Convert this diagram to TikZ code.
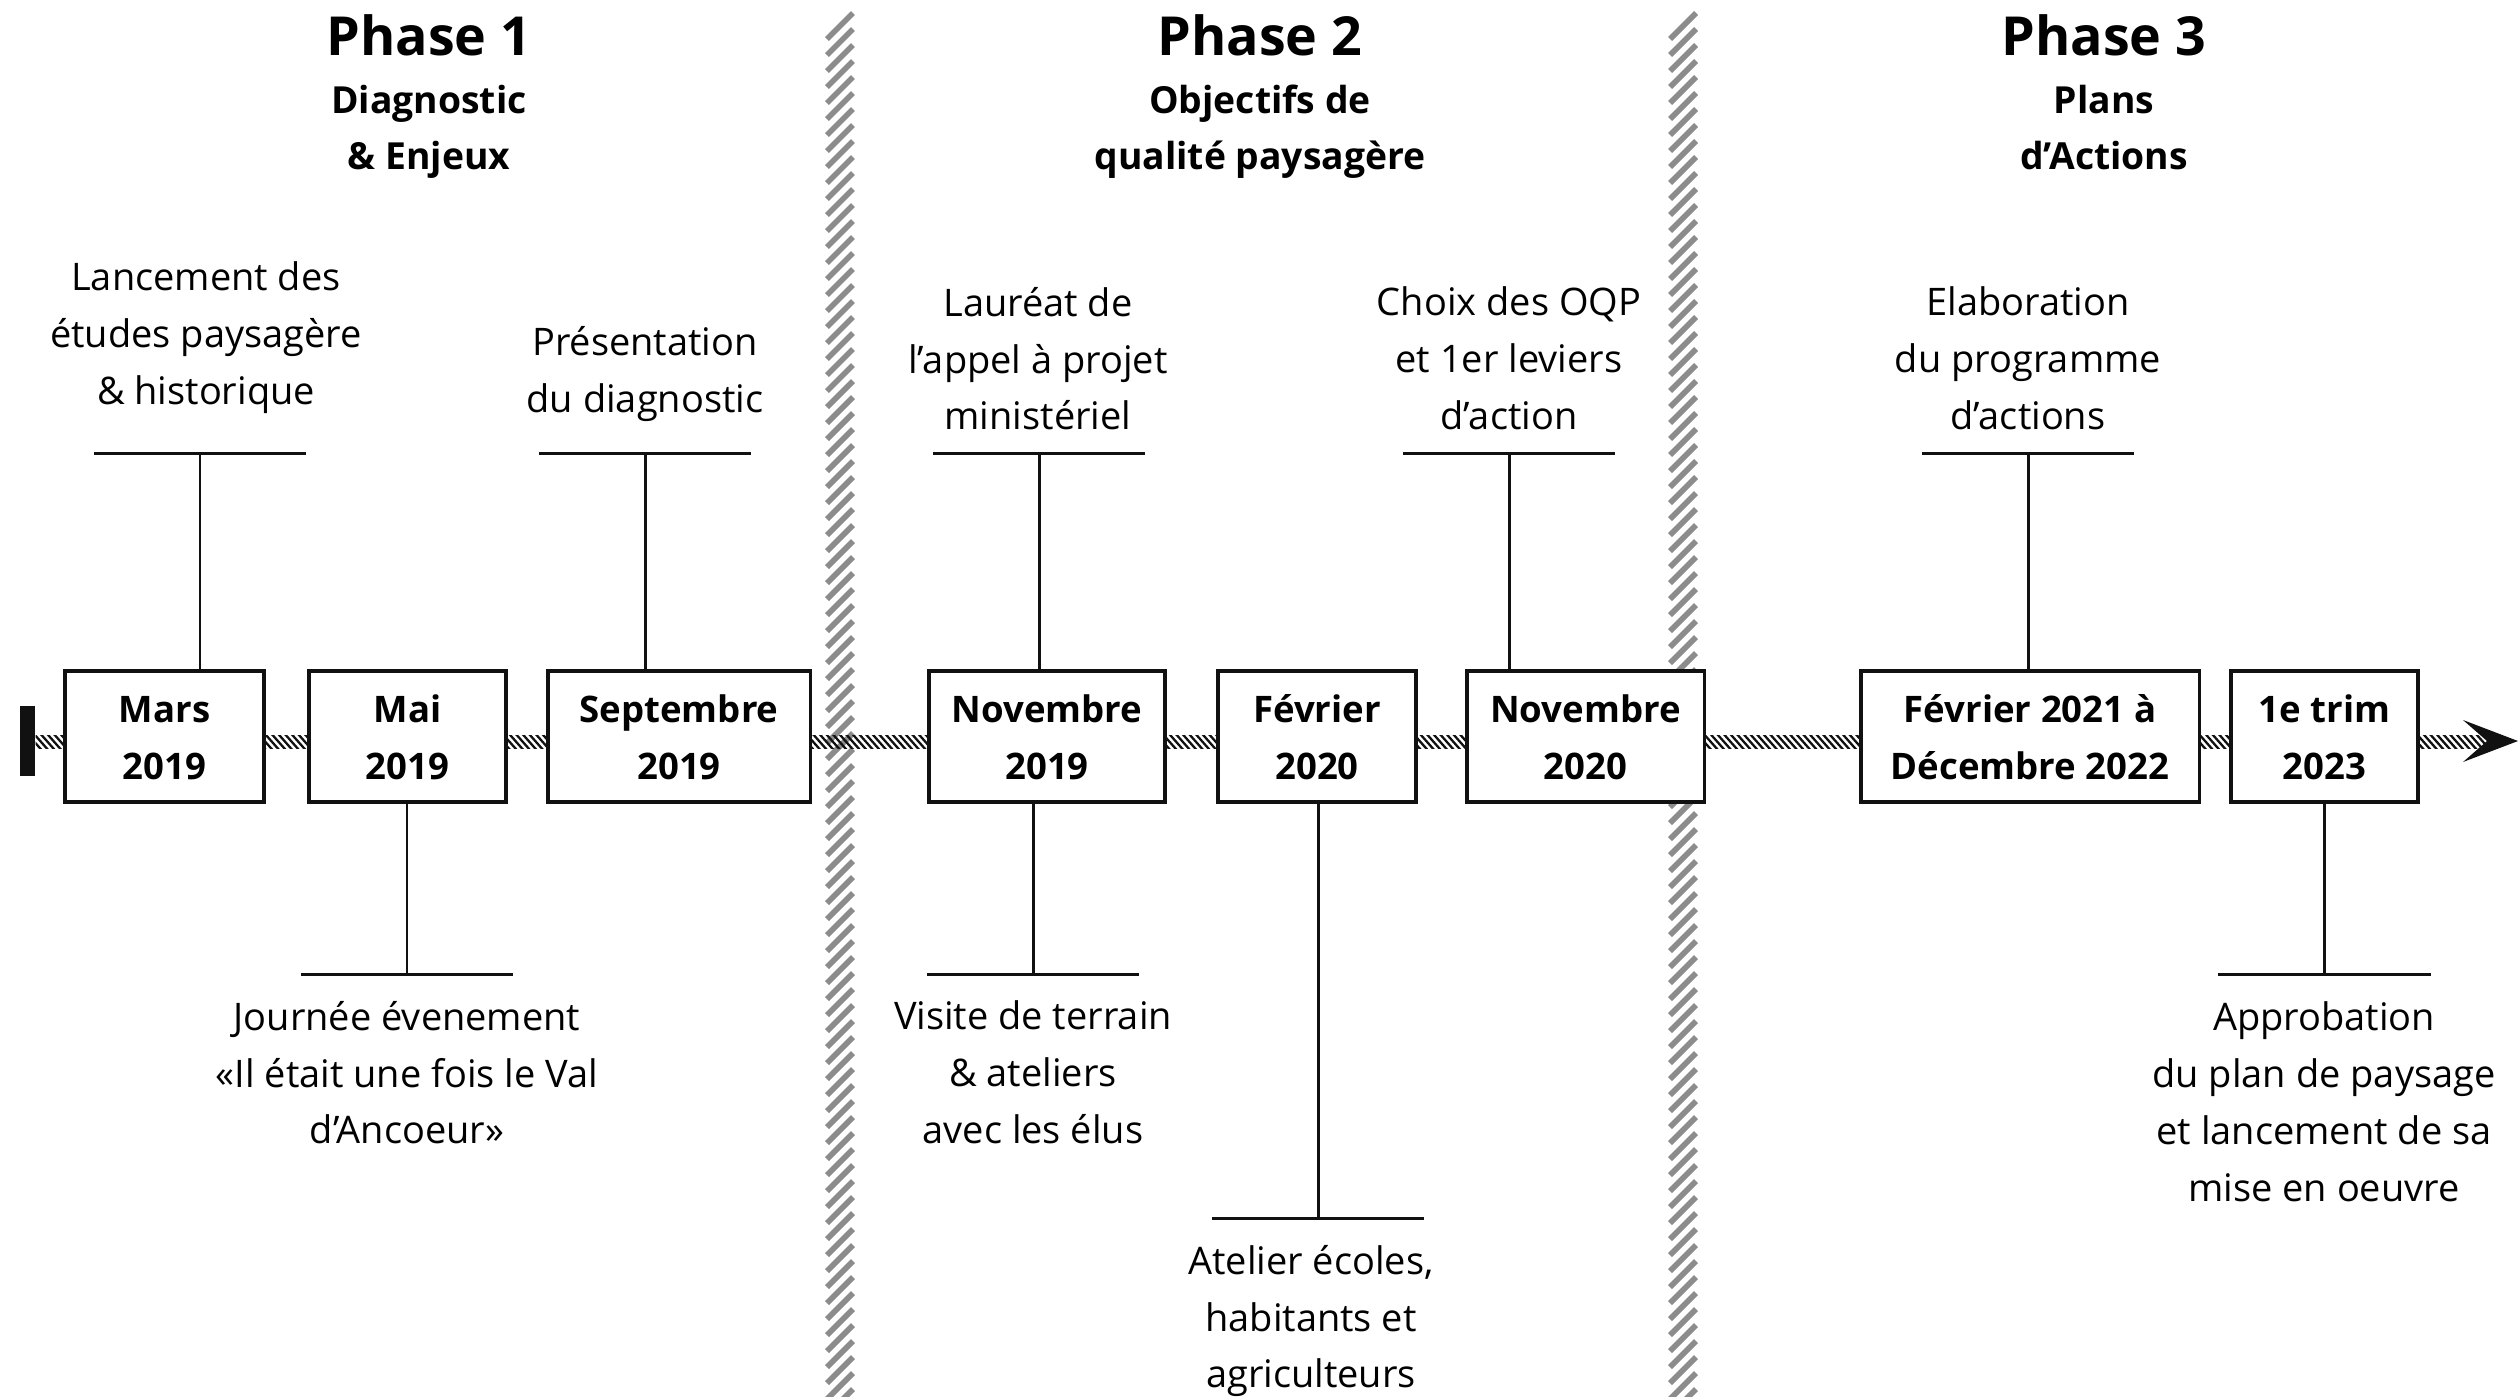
\documentclass[tikz,border=0pt]{standalone}
\usepackage{fontspec}
\setmainfont{Open Sans}
\usetikzlibrary{arrows.meta}
\newcommand\phasefont{\fontsize{15.3}{18}\selectfont\bfseries}
\newcommand\subfont{\fontsize{10.6}{16}\selectfont\bfseries}
\newcommand\datefont{\fontsize{10.4}{16}\selectfont\bfseries}
\newcommand\labelfont{\fontsize{10.8}{16.2}\selectfont}
% a taller strut on the first line lowers the text inside the date boxes
\newcommand\datestrut{\rule{0pt}{\dimexpr0.7\baselineskip+1.9pt\relax}}
\definecolor{ink}{HTML}{111111}
\definecolor{divgray}{HTML}{8C8C8C}
\begin{document}
\begin{tikzpicture}[x=0.01cm,y=-0.01cm,
  rule/.style={draw=ink, line width=0.85pt},
  datebox/.style={draw=ink, line width=0.9pt, fill=white, minimum height=1.31cm,
    inner sep=0pt, align=center, font=\datefont},
  phasetitle/.style={font=\phasefont, inner sep=0pt},
  phasesub/.style={font=\subfont, align=center, inner sep=0pt,
    execute at begin node=\strut, execute at end node=\strut},
  eventtext/.style={font=\labelfont, align=center, inner sep=0pt,
    execute at begin node=\strut, execute at end node=\strut},
  divstripe/.style={draw=divgray, line width=1.6pt},
  hatch/.style={draw=ink, line width=0.65pt}]

\useasboundingbox (0,0) rectangle (2520,1396);

% phase dividers: grey hatched bands
\foreach \cx in {840,1683}{
  \foreach \y in {13,29,...,1410}{
    \draw[divstripe] (\cx-13,\y+26) -- (\cx+13,\y);
  }
}

% time axis: hatched band from the start bar to the arrow head
\node[fill=ink, minimum width=0.15cm, minimum height=0.70cm, inner sep=0pt] (start) at (27.5,741) {};
\coordinate (tip) at (2518,741);
\begin{scope}
  \clip (start.east |- 0,735) rectangle (2487,748);
  \foreach \x in {20,26.6,...,2500}{
    \draw[hatch] (\x,733) -- (\x+15,750);
  }
\end{scope}
\fill[ink] (tip) -- (2463,720) -- (2487,741) -- (2463,762) -- cycle;

% phase headings
\node[phasetitle] (p1) at (429,35) {Phase 1};
\node[phasesub] (p1s) at (429,136) {Diagnostic\\\& Enjeux};
\node[phasetitle] (p2) at (1260,35) {Phase 2};
\node[phasesub] (p2s) at (1260,136) {Objectifs de\\qualité paysagère};
\node[phasetitle] (p3) at (2104,35) {Phase 3};
\node[phasesub] (p3s) at (2104,136) {Plans\\d’Actions};

% date boxes
\node[datebox, minimum width=1.99cm] (b1) at (164.5,736.5) {\datestrut Mars\\2019\strut};
\node[datebox, minimum width=1.97cm] (b2) at (407.5,736.5) {\datestrut Mai\\2019\strut};
\node[datebox, minimum width=2.62cm] (b3) at (679,736.5) {\datestrut Septembre\\2019\strut};
\node[datebox, minimum width=2.36cm] (b4) at (1047,736.5) {\datestrut Novembre\\2019\strut};
\node[datebox, minimum width=1.98cm] (b5) at (1317,736.5) {\datestrut Février\\2020\strut};
\node[datebox, minimum width=2.37cm] (b6) at (1585.5,736.5) {\datestrut Novembre\\2020\strut};
\node[datebox, minimum width=3.38cm] (b7) at (2030,736.5) {\datestrut Février 2021 à\\Décembre 2022\strut};
\node[datebox, minimum width=1.87cm] (b8) at (2324.5,736.5) {\datestrut 1e trim\\2023\strut};

% event rules above the axis
\coordinate (u1) at (200,453);
\coordinate (u2) at (645,453);
\coordinate (u3) at (1039,453);
\coordinate (u4) at (1509,453);
\coordinate (u5) at (2028,453);
% event rules below the axis
\coordinate (d1) at (407,974);
\coordinate (d2) at (1033,974);
\coordinate (d3) at (1318,1218);
\coordinate (d4) at (2324.5,974);

\foreach \c/\b in {u1/b1,u2/b3,u3/b4,u4/b6,u5/b7}{
  \draw[rule] ([xshift=-1.06cm]\c) -- ([xshift=1.06cm]\c);
  \draw[rule] (\c) -- (\c |- \b.north);
}
\foreach \c/\b in {d1/b2,d2/b4,d3/b5,d4/b8}{
  \draw[rule] ([xshift=-1.06cm]\c) -- ([xshift=1.06cm]\c);
  \draw[rule] (\c) -- (\c |- \b.south);
}

% event descriptions
\node[eventtext] (e1) at (206,342) {Lancement des\\études paysagère\\\& historique};
\node[eventtext] (e2) at (645,378) {Présentation\\du diagnostic};
\node[eventtext] (e3) at (1038,367) {Lauréat de\\l’appel à projet\\ministériel};
\node[eventtext] (e4) at (1509,367) {Choix des OQP\\et 1er leviers\\d’action};
\node[eventtext] (e5) at (2028,367) {Elaboration\\du programme\\d’actions};
\node[eventtext] (e6) at (407,1081) {Journée évenement\\«Il était une fois le Val\\d’Ancoeur»};
\node[eventtext] (e7) at (1033,1081) {Visite de terrain\\\& ateliers\\avec les élus};
\node[eventtext] (e8) at (1311,1325) {Atelier écoles,\\habitants et\\agriculteurs};
\node[eventtext] (e9) at (2324,1110) {Approbation\\du plan de paysage\\et lancement de sa\\mise en oeuvre};
\end{tikzpicture}
\end{document}
